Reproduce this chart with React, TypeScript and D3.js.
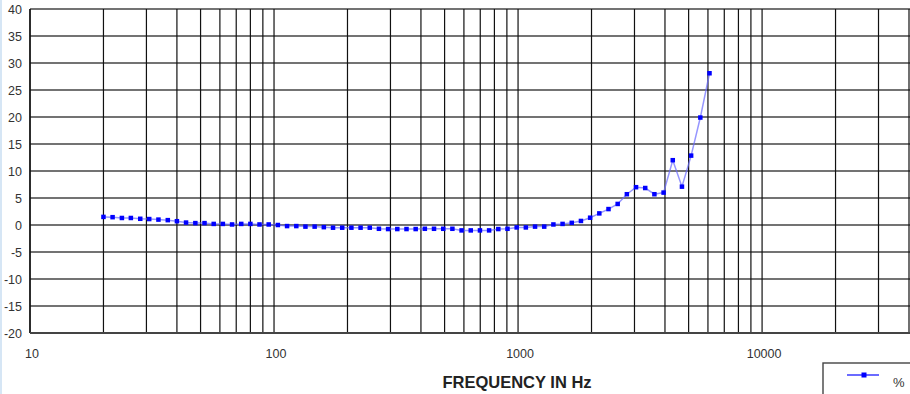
import React from "react";
import * as d3 from "d3";

// frequencies in Hz (1/8 octave steps from 20 Hz)
const freqs = [
  20, 21.8, 23.8, 25.9, 28.3, 30.8, 33.6, 36.7, 40, 43.6, 47.6, 51.9, 56.6,
  61.7, 67.3, 73.4, 80, 87.2, 95.1, 103.7, 113.1, 123.4, 134.5, 146.7, 160,
  174.5, 190.3, 207.5, 226.3, 246.8, 269.1, 293.4, 320, 349, 380.6, 415,
  452.5, 493.6, 538.2, 586.9, 640, 698, 761.1, 830, 905.1, 987.1, 1076.4,
  1173.8, 1280, 1395.9, 1522.2, 1660, 1810.2, 1974.1, 2152.8, 2347.7, 2560,
  2791.7, 3044.4, 3319.9, 3620.4, 3948.1, 4305.5, 4695.2, 5120, 5583.5, 6088.8,
];

// deviation in %
const percent = [
  1.5, 1.45, 1.3, 1.3, 1.15, 1.1, 1.0, 0.9, 0.7, 0.45, 0.35, 0.35, 0.2, 0.2,
  0.1, 0.2, 0.2, 0.1, 0.1, 0.0, -0.2, -0.2, -0.3, -0.3, -0.4, -0.5, -0.5,
  -0.5, -0.5, -0.5, -0.7, -0.75, -0.75, -0.75, -0.75, -0.7, -0.7, -0.7, -0.7,
  -1.0, -1.0, -1.0, -1.0, -0.75, -0.7, -0.45, -0.45, -0.3, -0.3, 0.1, 0.2,
  0.4, 0.75, 1.35, 2.15, 2.95, 3.9, 5.7, 7.0, 6.85, 5.7, 6.0, 12.0, 7.1,
  12.85, 19.9, 28.1,
];

const yTicks = [40, 35, 30, 25, 20, 15, 10, 5, 0, -5, -10, -15, -20];
const xLabels = [10, 100, 1000, 10000];
const decades = [10, 100, 1000, 10000];
const xTitle = "FREQUENCY IN Hz";
const seriesName = "%";

const W = 910;
const H = 394;

export default function App() {
  const x = d3.scaleLog().domain([10, 40000]).range([30, 909]);
  const y = d3.scaleLinear().domain([-20, 40]).range([333, 9]);

  const xGrid: number[] = [];
  decades.forEach((d) => {
    for (let m = 1; m <= 9; m++) {
      const v = d * m;
      if (v <= 40000) xGrid.push(v);
    }
  });

  const pts = freqs.map((f, i) => [f, percent[i]] as [number, number]);
  const line = d3
    .line<[number, number]>()
    .x((d) => x(d[0]))
    .y((d) => y(d[1]));

  const font = "'Liberation Sans', Arial, sans-serif";

  return (
    <svg
      width={W}
      height={H}
      style={{ position: "absolute", left: 0, top: 0, background: "#fff" }}
    >
      <rect x={0} y={0} width={2} height={H} fill="#d6e6f5" />

      {/* horizontal grid */}
      {yTicks.map((t) => (
        <line
          key={"h" + t}
          x1={30}
          x2={910}
          y1={y(t)}
          y2={y(t)}
          stroke="#444"
          strokeWidth={1.4}
        />
      ))}
      {/* vertical grid */}
      {xGrid.map((v) => (
        <line
          key={"v" + v}
          x1={x(v)}
          x2={x(v)}
          y1={9}
          y2={333}
          stroke="#111"
          strokeWidth={1.2}
        />
      ))}
      <line x1={30} x2={30} y1={9} y2={333} stroke="#111" strokeWidth={1.4} />
      <line x1={30} x2={910} y1={333} y2={333} stroke="#444" strokeWidth={2} />

      {/* y labels */}
      {yTicks.map((t) => (
        <text
          key={"yl" + t}
          x={22}
          y={y(t) + 4.5}
          textAnchor="end"
          fontFamily={font}
          fontSize={12.5}
          fill="#333"
        >
          {t}
        </text>
      ))}
      {/* x labels */}
      {xLabels.map((t) => (
        <text
          key={"xl" + t}
          x={x(t) + 2}
          y={358}
          textAnchor="middle"
          fontFamily={font}
          fontSize={12.5}
          fill="#333"
        >
          {t}
        </text>
      ))}
      <text
        x={517}
        y={388}
        textAnchor="middle"
        fontFamily={font}
        fontSize={16.5}
        fontWeight="bold"
        fill="#222"
      >
        {xTitle}
      </text>

      {/* series */}
      <path
        d={line(pts) || ""}
        fill="none"
        stroke="#6a6aff"
        strokeOpacity={0.7}
        strokeWidth={1.5}
      />
      {pts.map((d, i) => (
        <rect
          key={"p" + i}
          x={x(d[0]) - 2.25}
          y={y(d[1]) - 2.25}
          width={4.5}
          height={4.5}
          fill="#0000ff"
        />
      ))}

      {/* legend */}
      <rect x={823} y={363} width={100} height={50} fill="#fff" stroke="#444" strokeWidth={1.4} />
      <line x1={847} x2={879} y1={375} y2={375} stroke="#3a3aff" strokeWidth={1.5} />
      <rect x={861.5} y={372.5} width={5} height={5} fill="#0000ff" />
      <text x={893} y={387} fontFamily={font} fontSize={13} fill="#333">
        {seriesName}
      </text>
    </svg>
  );
}
